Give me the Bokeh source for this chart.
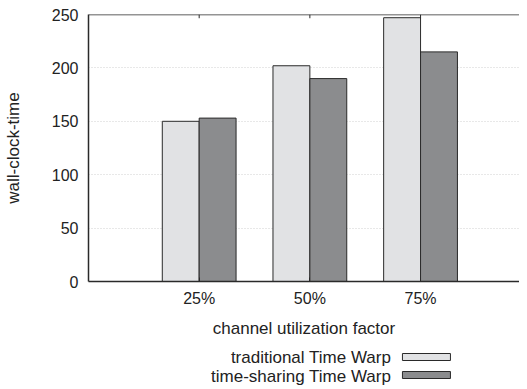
from bokeh.plotting import figure
from bokeh.models import Range1d, FixedTicker, LinearAxis, ColumnDataSource, Span, Grid
from bokeh.layouts import column
from bokeh.embed import file_html
from bokeh.resources import INLINE
from bokeh.core.properties import value

categories = ["25%", "50%", "75%"]
traditional = [150, 202, 247]
time_sharing = [153, 190, 215]
series_names = ["traditional Time Warp", "time-sharing Time Warp"]
y_ticks = [0, 50, 100, 150, 200, 250]

LIGHT = "#e1e2e4"
DARK = "#8b8c8e"
EDGE = "#2a2a2a"
TXT = "#222222"
FONT = "Liberation Sans"

pos = [i + 1 for i in range(len(categories))]
bw = 1 / 3
src = ColumnDataSource(dict(
    x_l=[p - bw / 2 for p in pos], x_d=[p + bw / 2 for p in pos],
    trad=traditional, ts=time_sharing))

p = figure(width=519, height=340, output_backend="svg", toolbar_location=None,
           x_range=Range1d(0, 3.894), y_range=Range1d(0, 250),
           min_border_left=79, min_border_right=0, min_border_top=14, min_border_bottom=58,
           x_axis_location=None, y_axis_location=None)
p.outline_line_color = None
p.title.visible = False

p.vbar(x="x_l", top="trad", width=bw, source=src, fill_color=LIGHT, line_color=EDGE, line_width=1)
p.vbar(x="x_d", top="ts", width=bw, source=src, fill_color=DARK, line_color=EDGE, line_width=1)

# top border line with inward ticks at categories
p.add_layout(Span(location=y_ticks[-1], dimension="width", line_color=EDGE, line_width=1.5))
p.segment(x0=pos, x1=pos, y0=[y_ticks[-1]] * len(pos), y1=[y_ticks[-1] - 3.5] * len(pos),
          line_color=EDGE, line_width=1)

# axes
ax_b = LinearAxis(ticker=FixedTicker(ticks=pos),
                  major_label_overrides={pp: c for pp, c in zip(pos, categories)},
                  axis_label="channel utilization factor")
ax_l = LinearAxis(ticker=FixedTicker(ticks=y_ticks), axis_label="wall-clock-time")
for ax in (ax_b, ax_l):
    ax.axis_line_color = EDGE
    ax.axis_line_width = 1.5
    ax.major_tick_line_color = EDGE
    ax.major_tick_in = 4
    ax.major_tick_out = 0
    ax.minor_tick_line_color = None
    ax.major_label_text_font = FONT
    ax.major_label_text_font_size = "16px"
    ax.major_label_text_color = TXT
    ax.axis_label_text_font = FONT
    ax.axis_label_text_font_size = "17px"
    ax.axis_label_text_font_style = "normal"
    ax.axis_label_text_color = TXT
ax_l.major_tick_line_color = None
ax_l.major_label_standoff = 10
ax_l.axis_label_standoff = 26
ax_b.major_label_standoff = 8
ax_b.axis_label_standoff = 9
p.add_layout(ax_b, "below")
p.add_layout(ax_l, "left")

p.ygrid.grid_line_color = None
p.xgrid.grid_line_color = None
p.add_layout(Grid(dimension=1, ticker=FixedTicker(ticks=y_ticks[1:-1]),
                  grid_line_color="#d0d0d0", grid_line_dash="1 2", grid_line_width=1))

# legend (text left, swatch right); frame aligned with the main plot frame
leg = figure(width=519, height=49, output_backend="svg", toolbar_location=None,
             x_range=Range1d(0, 440), y_range=Range1d(49, 0),
             min_border_left=79, min_border_right=0, min_border_top=0, min_border_bottom=0,
             x_axis_location=None, y_axis_location=None)
leg.title.visible = False
leg.outline_line_color = None
leg.xgrid.grid_line_color = None
leg.ygrid.grid_line_color = None
leg_src = ColumnDataSource(dict(name=series_names, ty=[17, 36], sy=[16.5, 34.5],
                                col=[LIGHT, DARK]))
leg.text(x=309, y="ty", text="name", source=leg_src, text_align="right",
         text_baseline="middle", text_font=value(FONT), text_font_size="17px",
         text_color=TXT)
leg.rect(x=345, y="sy", width=49, height=7, source=leg_src, fill_color="col",
         line_color=EDGE, line_width=1)

layout = column(p, leg, spacing=0)
open("out.html", "w").write(file_html(layout, INLINE))
